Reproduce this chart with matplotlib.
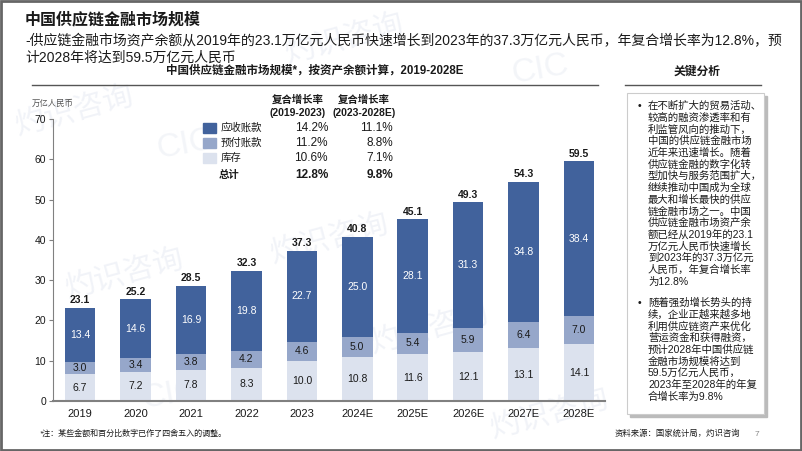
import matplotlib.pyplot as plt
from matplotlib.patches import Rectangle
import numpy as np

plt.rcParams['font.family'] = ['Liberation Sans', 'Noto Sans CJK SC']

years = ['2019', '2020', '2021', '2022', '2023', '2024E', '2025E', '2026E', '2027E', '2028E']
inventory = [6.7, 7.2, 7.8, 8.3, 10.0, 10.8, 11.6, 12.1, 13.1, 14.1]
prepaid = [3.0, 3.4, 3.8, 4.2, 4.6, 5.0, 5.4, 5.9, 6.4, 7.0]
receivable = [13.4, 14.6, 16.9, 19.8, 22.7, 25.0, 28.1, 31.3, 34.8, 38.4]
totals = [23.1, 25.2, 28.5, 32.3, 37.3, 40.8, 45.1, 49.3, 54.3, 59.5]

series_names = ['应收账款', '预付账款', '库存']
cagr_hist = ['14.2%', '11.2%', '10.6%']
cagr_fcst = ['11.1%', '8.8%', '7.1%']
cagr_total = ['12.8%', '9.8%']

bullet1 = ['在不断扩大的贸易活动、', '较高的融资渗透率和有', '利监管风向的推动下，',
           '中国的供应链金融市场', '近年来迅速增长。随着', '供应链金融的数字化转',
           '型加快与服务范围扩大，', '继续推动中国成为全球', '最大和增长最快的供应',
           '链金融市场之一。中国', '供应链金融市场资产余', '额已经从2019年的23.1',
           '万亿元人民币快速增长', '到2023年的37.3万亿元', '人民币，年复合增长率', '为12.8%']
bullet2 = ['随着强劲增长势头的持', '续，企业正越来越多地', '利用供应链资产来优化',
           '营运资金和获得融资，', '预计2028年中国供应链', '金融市场规模将达到',
           '59.5万亿元人民币，', '2023年至2028年的年复', '合增长率为9.8%']

c_dark = '#41629C'
c_mid = '#96A7CA'
c_light = '#DCE2EE'
txt = '#1A1A1A'

W, H = 802, 451
fig = plt.figure(figsize=(W / 100, H / 100), dpi=100)

# full-figure layer in pixel coordinates for titles, table and side panel
bg = fig.add_axes([0, 0, 1, 1])
bg.set_xlim(0, W)
bg.set_ylim(H, 0)
bg.axis('off')

# faint watermarks
for (wx, wy) in [(345, 40), (75, 112), (330, 240), (125, 275), (550, 415), (430, 330)]:
    bg.text(wx, wy, '灼识咨询', fontsize=22, color='#C9D1E3', alpha=0.25,
            rotation=15, ha='center', va='center', zorder=0)
for (wx, wy) in [(185, 145), (540, 70), (715, 150), (670, 330), (170, 395)]:
    bg.text(wx, wy, 'CIC', fontsize=24, color='#C9D1E3', alpha=0.22,
            rotation=10, ha='center', va='center', zorder=0)

bg.add_patch(Rectangle((1, 1), W - 2, H - 2, fill=False, edgecolor='#666666', lw=2))

bg.text(25, 20, '中国供应链金融市场规模', fontsize=11.5, weight='bold', color=txt, va='center')
bg.text(25, 41, '-供应链金融市场资产余额从2019年的23.1万亿元人民币快速增长到2023年的37.3万亿元人民币，年复合增长率为12.8%，预',
        fontsize=10, color=txt, va='center')
bg.text(25, 58, '计2028年将达到59.5万亿元人民币', fontsize=10, color=txt, va='center')

bg.text(315, 71, '中国供应链金融市场规模*，按资产余额计算，2019-2028E', fontsize=8.3,
        weight='bold', color=txt, ha='center', va='center')
bg.plot([32, 598], [85, 85], color='#555555', lw=1)
bg.text(697, 72, '关键分析', fontsize=8.5, weight='bold', color=txt, ha='center', va='center')
bg.plot([625, 761], [85, 85], color='#555555', lw=1)

# cagr table
for cx, a, b in [(298, '复合增长率', '(2019-2023)'), (364, '复合增长率', '(2023-2028E)')]:
    bg.text(cx, 100, a, fontsize=7.5, weight='bold', color=txt, ha='center', va='center')
    bg.text(cx, 113, b, fontsize=7.5, weight='bold', color=txt, ha='center', va='center')
row_y = [128, 143, 158]
for yy, name, col, h1, h2 in zip(row_y, series_names, [c_dark, c_mid, c_light], cagr_hist, cagr_fcst):
    bg.add_patch(Rectangle((203, yy - 5), 13, 10, color=col))
    bg.text(221, yy, name, fontsize=7.5, color=txt, va='center')
    bg.text(328, yy, h1, fontsize=8.5, color=txt, ha='right', va='center')
    bg.text(393, yy, h2, fontsize=8.5, color=txt, ha='right', va='center')
bg.text(219, 175, '总计', fontsize=7.5, weight='bold', color=txt, va='center')
bg.text(328, 175, cagr_total[0], fontsize=8.5, weight='bold', color=txt, ha='right', va='center')
bg.text(393, 175, cagr_total[1], fontsize=8.5, weight='bold', color=txt, ha='right', va='center')

# side panel
bg.add_patch(Rectangle((630, 96), 137, 321, color='#BBBBBB', zorder=1))
bg.add_patch(Rectangle((627, 93), 137, 321, facecolor='white', edgecolor='#CCCCCC', lw=0.8, zorder=2))
step = 11.7
for lines, y0 in [(bullet1, 106), (bullet2, 303)]:
    bg.text(639, y0, '•', fontsize=7.5, color=txt, ha='center', va='center', zorder=3)
    for k, line in enumerate(lines):
        bg.text(648, y0 + k * step, line, fontsize=7.5, color=txt, va='center', zorder=3)

bg.text(40, 434, '*注：某些金额和百分比数字已作了四舍五入的调整。', fontsize=5.8,
        style='italic', color=txt, va='center')
bg.text(615, 434, '资料来源：国家统计局，灼识咨询', fontsize=6, style='italic', color=txt, va='center')
bg.text(755, 434, '7', fontsize=6, color='#888888', va='center')

# chart
ax = fig.add_axes([53 / W, 1 - 401 / H, (605 - 53) / W, (401 - 119) / H])
ax.patch.set_alpha(0)
x = np.arange(len(years))
w = 0.55
mid_base = np.array(inventory)
top_base = mid_base + np.array(prepaid)
ax.bar(x, inventory, w, color=c_light, zorder=2)
ax.bar(x, prepaid, w, bottom=mid_base, color=c_mid, zorder=2)
ax.bar(x, receivable, w, bottom=top_base, color=c_dark, zorder=2)

for i in range(len(years)):
    ax.text(x[i], inventory[i] / 2, f'{inventory[i]:.1f}', ha='center', va='center',
            fontsize=7.5, color=txt, zorder=3)
    ax.text(x[i], mid_base[i] + prepaid[i] / 2, f'{prepaid[i]:.1f}', ha='center', va='center',
            fontsize=7.5, color=txt, zorder=3)
    ax.text(x[i], top_base[i] + receivable[i] / 2, f'{receivable[i]:.1f}', ha='center', va='center',
            fontsize=7.5, color='white', zorder=3)
    ax.annotate(f'{totals[i]:.1f}', (x[i], totals[i]), xytext=(0, 2), textcoords='offset points',
                ha='center', va='bottom', fontsize=7.5, weight='bold', color=txt)

ax.set_xlim(-0.49, 9.47)
ax.set_ylim(0, 70)
ax.set_yticks(range(0, 71, 10))
ax.set_xticks(x)
ax.set_xticklabels(years)
ax.tick_params(axis='x', length=0, pad=6, labelsize=8, labelcolor=txt)
ax.tick_params(axis='y', length=3, width=0.8, color='#808080', labelsize=7.5, labelcolor=txt, pad=2)
for s in ['top', 'right']:
    ax.spines[s].set_visible(False)
ax.spines['left'].set_color('#808080')
ax.spines['left'].set_linewidth(0.8)
ax.spines['bottom'].set_color('#808080')
ax.spines['bottom'].set_linewidth(1.5)

bg.text(32, 104, '万亿人民币', fontsize=6, style='italic', color='#555555', va='center')

fig.savefig('out.png', dpi=100)
